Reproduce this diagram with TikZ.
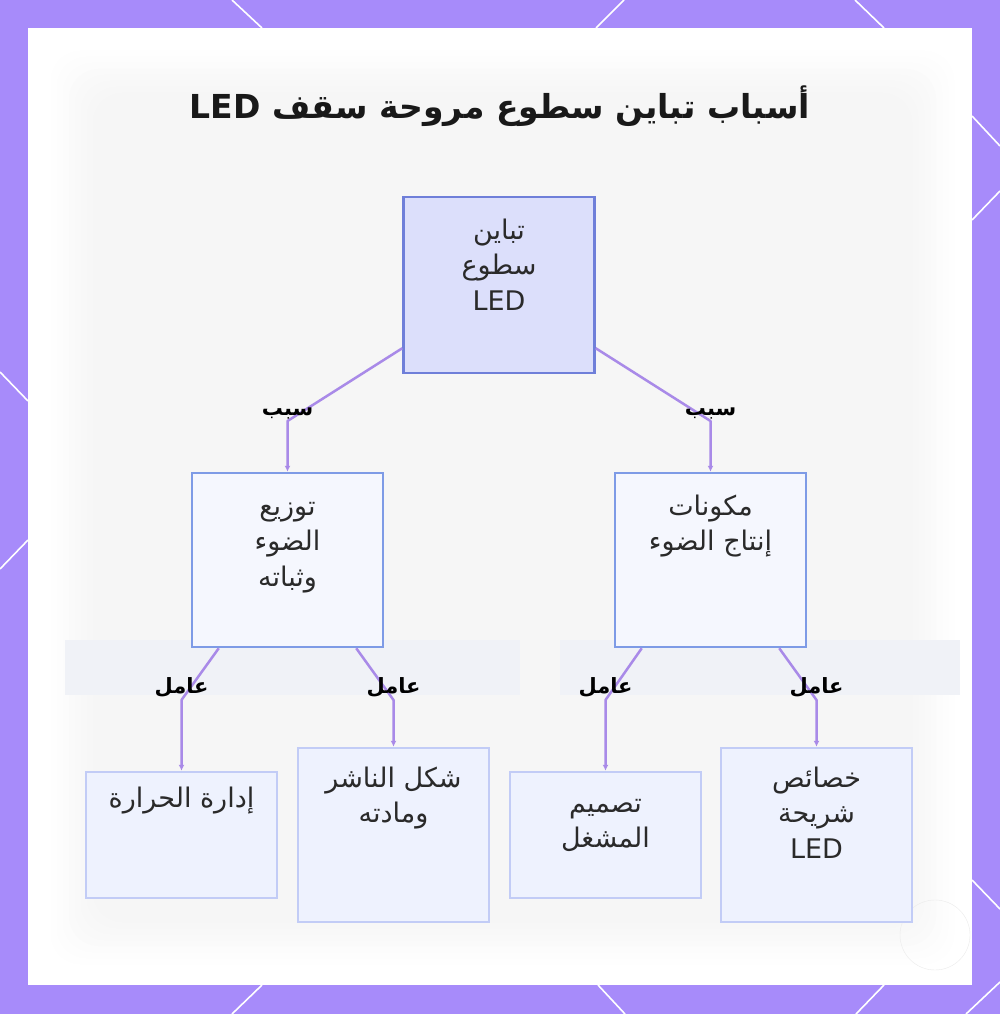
\documentclass[tikz,border=0pt]{standalone}
\usepackage{fontspec}
\usepackage{xcolor}
\usepackage{tikz}
\usetikzlibrary{arrows.meta}
\TeXXeTstate=1
\newfontfamily\arabicfont[Script=Arabic]{DejaVu Sans}
\newcommand\artext[1]{\beginR #1\endR}
\definecolor{bgpurple}{HTML}{A78BFA}
\definecolor{linkpurple}{HTML}{A98AE8}
\definecolor{rootfill}{HTML}{DCDFFB}
\definecolor{rootline}{HTML}{6F7FD9}
\definecolor{causefill}{HTML}{F5F7FE}
\definecolor{causeline}{HTML}{7E9BE6}
\definecolor{factorfill}{HTML}{EEF2FE}
\definecolor{factorline}{HTML}{C2CCF6}
\definecolor{textdark}{HTML}{2A2A2A}
\definecolor{ghostbar}{HTML}{F0F2F7}
\tikzset{
	treebox/.style   = {shape=rectangle, draw, line width=2.5pt,
		minimum width=191pt, inner sep=0pt},
	rootbox/.style   = {treebox, fill=rootfill, draw=rootline, minimum height=176pt},
	causebox/.style  = {treebox, fill=causefill, draw=causeline, minimum height=174pt},
	factorbox/.style = {treebox, fill=factorfill, draw=factorline},
	boxtext/.style   = {anchor=north, align=center, inner sep=0pt, text=textdark,
		yshift=-15pt, font=\arabicfont\fontsize{27}{35.5}\selectfont},
	link/.style      = {draw=linkpurple, line width=2.5pt, line join=round,
		-{Latex[length=6pt,width=6pt]}},
	linklabel/.style = {above, inner sep=1pt, text=black,
		font=\arabicfont\bfseries\fontsize{21}{24}\selectfont},
	lattice/.style   = {draw=white, line width=1.6pt}
}
\begin{document}
\begin{tikzpicture}
	[
	x = 1pt,
	y = -1pt
	]
	\useasboundingbox (0,0) rectangle (1000,1014);
	% frame
	\fill[bgpurple] (0,0) rectangle (1000,1014);
	\draw[lattice] (232,0) -- (262,28);
	\draw[lattice] (624,0) -- (596,28);
	\draw[lattice] (855,0) -- (884,28);
	\draw[lattice] (262,985) -- (232,1014);
	\draw[lattice] (598,985) -- (625,1014);
	\draw[lattice] (884,985) -- (856,1014);
	\draw[lattice] (0,372) -- (28,401);
	\draw[lattice] (28,540) -- (0,569);
	\draw[lattice] (972,116) -- (1000,146);
	\draw[lattice] (972,220) -- (1000,191);
	\draw[lattice] (972,880) -- (1000,909);
	\draw[lattice] (966,1014) -- (1000,982);
	\fill[white] (28,28) rectangle (972,985);
	% soft grey haze of the photo behind
	\foreach \i in {1,...,8} {
		\pgfmathsetmacro\haze{0.45*\i}
		\fill[black!\haze, rounded corners=30pt]
			(45+\i*6,45+\i*6) rectangle (960-\i*6,970-\i*6);
	}
	\fill[ghostbar] (65,640) rectangle (520,695);
	\fill[ghostbar] (560,640) rectangle (960,695);
	\draw[black!8] (935,935) circle (35);

	\node [font=\arabicfont\bfseries\fontsize{33}{38}\selectfont, text=black!90] (title) at (500,106)
		{\artext{أسباب تباين سطوع مروحة سقف \beginL LED\endL}};

	% boxes
	\node [rootbox] (root) at (499,285) {};
	\node [boxtext, yshift=-8pt] (root-txt) at (root.north) {\artext{تباين}\\\artext{سطوع}\\LED};

	\node [causebox] (light) at (287.5,560) {};
	\node [boxtext, yshift=-15pt] (light-txt) at (light.north) {\artext{توزيع}\\\artext{الضوء}\\\artext{وثباته}};
	\node [causebox] (parts) at (710.5,560) {};
	\node [boxtext, yshift=-8pt] (parts-txt) at (parts.north) {\artext{مكونات}\\\artext{إنتاج الضوء}};

	\node [factorbox, minimum height=126pt] (heat) at (181.5,835) {};
	\node [boxtext, yshift=-1pt] (heat-txt) at (heat.north) {\artext{إدارة الحرارة}};
	\node [factorbox, minimum height=174pt] (diffuser) at (393.5,835) {};
	\node [boxtext, yshift=-5pt] (diffuser-txt) at (diffuser.north) {\artext{شكل الناشر}\\\artext{ومادته}};
	\node [factorbox, minimum height=126pt] (driver) at (605.5,835) {};
	\node [boxtext, yshift=-13pt] (driver-txt) at (driver.north) {\artext{تصميم}\\\artext{المشغل}};
	\node [factorbox, minimum height=174pt] (chip) at (816.5,835) {};
	\node [boxtext, yshift=-5pt] (chip-txt) at (chip.north) {\artext{خصائص}\\\artext{شريحة}\\LED};

	% links
	\draw [link] ([yshift=26pt]root.south west) -- (light.north |- 0,421)
		node [linklabel] (why-l) {\artext{سبب}} -- (light.north);
	\draw [link] ([yshift=26pt]root.south east) -- (parts.north |- 0,421)
		node [linklabel] (why-r) {\artext{سبب}} -- (parts.north);
	\draw [link] ([xshift=28pt]light.south west) -- (heat.north |- 0,700)
		node [linklabel] (f-heat) {\artext{عامل}} -- (heat.north);
	\draw [link] ([xshift=-28pt]light.south east) -- (diffuser.north |- 0,700)
		node [linklabel] (f-diffuser) {\artext{عامل}} -- (diffuser.north);
	\draw [link] ([xshift=28pt]parts.south west) -- (driver.north |- 0,700)
		node [linklabel] (f-driver) {\artext{عامل}} -- (driver.north);
	\draw [link] ([xshift=-28pt]parts.south east) -- (chip.north |- 0,700)
		node [linklabel] (f-chip) {\artext{عامل}} -- (chip.north);
\end{tikzpicture}
\end{document}
